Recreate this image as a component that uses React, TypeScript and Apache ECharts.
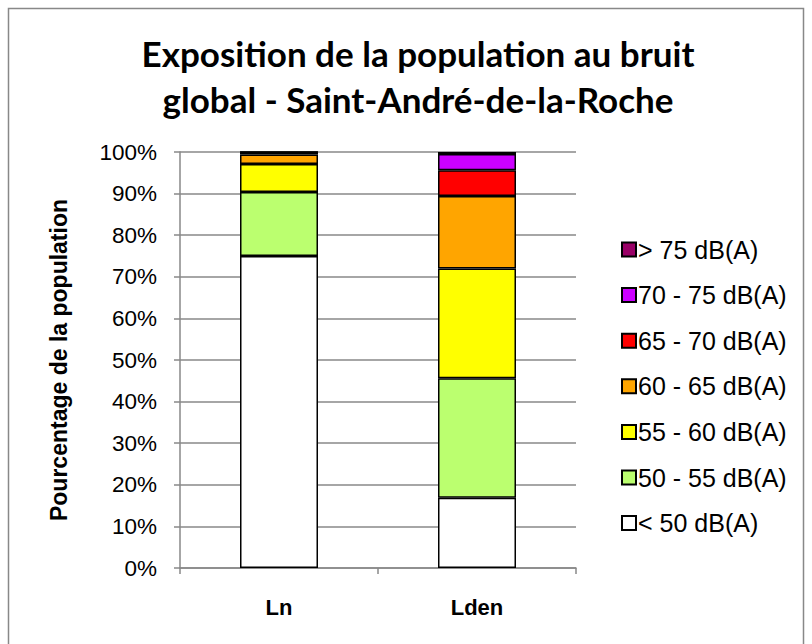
import React, { useEffect, useRef } from "react";
import * as echarts from "echarts";

const categories = ["Ln", "Lden"];
const seriesNames = ["< 50 dB(A)", "50 - 55 dB(A)", "55 - 60 dB(A)", "60 - 65 dB(A)", "65 - 70 dB(A)", "70 - 75 dB(A)", "> 75 dB(A)"];
const below50 = [75.0, 16.9];
const db50to55 = [15.4, 28.7];
const db55to60 = [6.7, 26.4];
const db60to65 = [2.3, 17.4];
const db65to70 = [0.5, 6.2];
const db70to75 = [0.1, 3.9];
const above75 = [0.0, 0.5];
const colors = ["#FFFFFF", "#BBFF6F", "#FFFF00", "#FFA500", "#FF0000", "#CC00FF", "#990066"];
const yTicks = [0, 10, 20, 30, 40, 50, 60, 70, 80, 90, 100];

const ARIAL = "Arial, 'Liberation Sans', sans-serif";

export default function App() {
  const ref = useRef<HTMLDivElement>(null);
  useEffect(() => {
    const chart = echarts.init(ref.current!, null, { renderer: "svg" });
    const values = [below50, db50to55, db55to60, db60to65, db65to70, db70to75, above75];
    chart.setOption({
      animation: false,
      backgroundColor: "#fff",
      title: {
        text: "Exposition de la population au bruit\nglobal - Saint-André-de-la-Roche",
        left: 413,
        top: 25,
        textAlign: "center",
        textStyle: { fontFamily: "Lato", fontWeight: "bold", fontSize: 35, lineHeight: 46, color: "#000" },
      },
      graphic: [
        { type: "rect", shape: { x: 8.5, y: 8.5, width: 795, height: 700 }, style: { fill: "none", stroke: "#888", lineWidth: 1.5 }, silent: true },
      ],
      legend: {
        orient: "vertical",
        left: 616,
        top: 232,
        itemWidth: 14,
        itemHeight: 14,
        itemGap: 20.6,
        icon: "rect",
        data: [...seriesNames].reverse(),
        textStyle: { fontFamily: ARIAL, fontSize: 25, color: "#000", padding: [0, 0, 0, -3] },
      },
      grid: { left: 180, top: 152, width: 396, height: 416 },
      xAxis: {
        type: "category",
        data: categories,
        axisLine: { lineStyle: { color: "#888", width: 1.5 } },
        axisTick: { show: true, length: 6, lineStyle: { color: "#888", width: 1.5 } },
        axisLabel: { fontFamily: ARIAL, fontWeight: "bold", fontSize: 22, color: "#000", margin: 28 },
      },
      yAxis: {
        type: "value",
        min: 0,
        max: 100,
        interval: 10,
        name: "Pourcentage de la population",
        nameLocation: "middle",
        nameGap: 110,
        nameRotate: 90,
        nameTextStyle: { fontFamily: ARIAL, fontWeight: "bold", fontSize: 23, color: "#000" },
        axisLine: { show: true, lineStyle: { color: "#888", width: 1.5 } },
        axisTick: { show: true, length: 6, lineStyle: { color: "#888", width: 1.5 } },
        axisLabel: {
          formatter: (v: number) => (yTicks.includes(v) ? v + "%" : ""),
          fontFamily: ARIAL,
          fontSize: 22.5,
          color: "#000",
          margin: 23,
        },
        splitLine: { lineStyle: { color: "#888", width: 1.5 } },
      },
      series: seriesNames.map((name, i) => ({
        name,
        type: "bar",
        stack: "total",
        barWidth: 78,
        data: values[i],
        itemStyle: { color: colors[i], borderColor: "#000", borderWidth: 1.5 },
      })),
    });
    return () => chart.dispose();
  }, []);
  return <div ref={ref} style={{ position: "absolute", left: 0, top: 0, width: 812, height: 644 }} />;
}
